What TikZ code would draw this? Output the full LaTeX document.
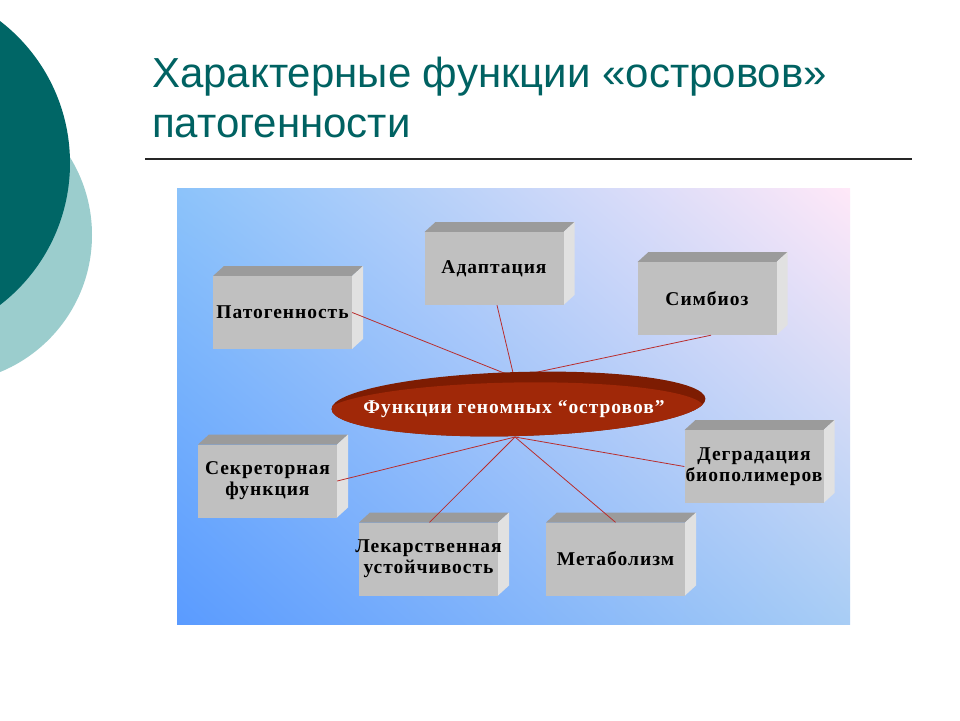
\documentclass[tikz,border=0pt]{standalone}
\usepackage{fontspec}
\setmainfont{Liberation Serif}
\newfontfamily\titlefont{Liberation Sans}
\newfontfamily\boxserif[LetterSpace=5]{Liberation Serif}
\usetikzlibrary{shapes.geometric,shadings}
\definecolor{darkteal}{RGB}{0,102,102}
\definecolor{lightteal}{RGB}{155,205,205}
\definecolor{titleteal}{RGB}{0,98,98}
\definecolor{frontgray}{RGB}{192,192,192}
\definecolor{topgray}{RGB}{155,155,155}
\definecolor{sidegray}{RGB}{225,225,225}
\definecolor{mainred}{RGB}{160,40,8}
\definecolor{rimred}{RGB}{125,28,2}
\definecolor{linered}{RGB}{185,45,45}
\definecolor{pBL}{RGB}{90,155,255}
\definecolor{pTL}{RGB}{140,195,250}
\definecolor{pTR}{RGB}{255,232,248}
\definecolor{pBR}{RGB}{168,205,245}
% box: name, centre x, centre y, text (front face 139 x 73, depth (11,10))
\newcommand{\cubebox}[4]{%
  \fill[topgray] ({#2-69.5},{#3-36.5}) -- ({#2+69.5},{#3-36.5}) -- ({#2+80.5},{#3-46.5}) -- ({#2-58.5},{#3-46.5}) -- cycle;
  \fill[sidegray] ({#2+69.5},{#3-36.5}) -- ({#2+69.5},{#3+36.5}) -- ({#2+80.5},{#3+26.5}) -- ({#2+80.5},{#3-46.5}) -- cycle;
  \node[cubefront] (#1) at (#2,#3) {#4};
}
\newcommand{\ol}[1]{\makebox[0pt]{#1}}
\tikzset{
  cubefront/.style={rectangle, fill=frontgray, minimum width=139pt, minimum height=73pt, inner sep=0pt, align=center, font=\boxserif\fontsize{19.5}{21}\selectfont\bfseries},
  conn/.style={draw=linered, line width=0.8pt},
}
\begin{document}
\begin{tikzpicture}[x=1pt,y=-1pt]
\useasboundingbox (0,0) rectangle (960,720);
\fill[white] (0,0) rectangle (960,720);
% decorative circles
\fill[lightteal] (-56,235) circle (148pt);
\fill[darkteal] (-109,163) circle (179pt);
% title
\node[anchor=base west, inner sep=0pt, text=titleteal, font=\titlefont\fontsize{42}{50}\selectfont] (t1) at (152,87) {Характерные функции «островов»};
\node[anchor=base west, inner sep=0pt, text=titleteal, font=\titlefont\fontsize{42}{50}\selectfont] (t2) at (152,137) {патогенности};
\draw[line width=1.6pt, black!85] (145,159) -- (912,159);
% panel
\shade[lower left=pBL, upper left=pTL, upper right=pTR, lower right=pBR] (177,188) rectangle (850,624);
% boxes
\cubebox{pat}{282.5}{312.5}{Патогенность}
\cubebox{adap}{494}{268.5}{Адаптация}
\cubebox{symb}{707}{298.5}{Симбиоз}
\cubebox{sekr}{267.5}{481}{Секреторная\\функция}
\cubebox{lek}{428.5}{559}{\ol{Лекарственная}\\\ol{устойчивость}}
\cubebox{metab}{615.5}{559}{Метаболизм}
\cubebox{degr}{754}{466.5}{Деградация\\биополимеров}
% hub points
\coordinate (hubT) at (514,377);
\coordinate (hubB) at (515,437);
\draw[conn] (pat.east) -- (hubT);
\draw[conn] ([xshift=3pt]adap.south) -- (hubT);
\draw[conn] ([xshift=4pt]symb.south) -- (hubT);
\draw[conn] (sekr.east) -- (hubB);
\draw[conn] ([xshift=1pt]lek.north) -- (hubB);
\draw[conn] (metab.north) -- (hubB);
\draw[conn] (degr.west) -- (hubB);
% central ellipse (tilted disc with dark upper rim)
\begin{scope}
  \clip[rotate around={1.6:(518.5,404)}] (518.5,404) ellipse [x radius=187pt, y radius=32pt];
  \fill[rimred] (518.5,404) circle (200pt);
  \fill[mainred, rotate around={1.0:(514,411)}] (514,411) ellipse [x radius=190pt, y radius=28.5pt];
\end{scope}
\node[inner sep=0pt, text=white, font=\boxserif\fontsize{19.5}{22}\selectfont\bfseries] (hub) at (514,409) {Функции геномных “островов”};
\end{tikzpicture}
\end{document}
